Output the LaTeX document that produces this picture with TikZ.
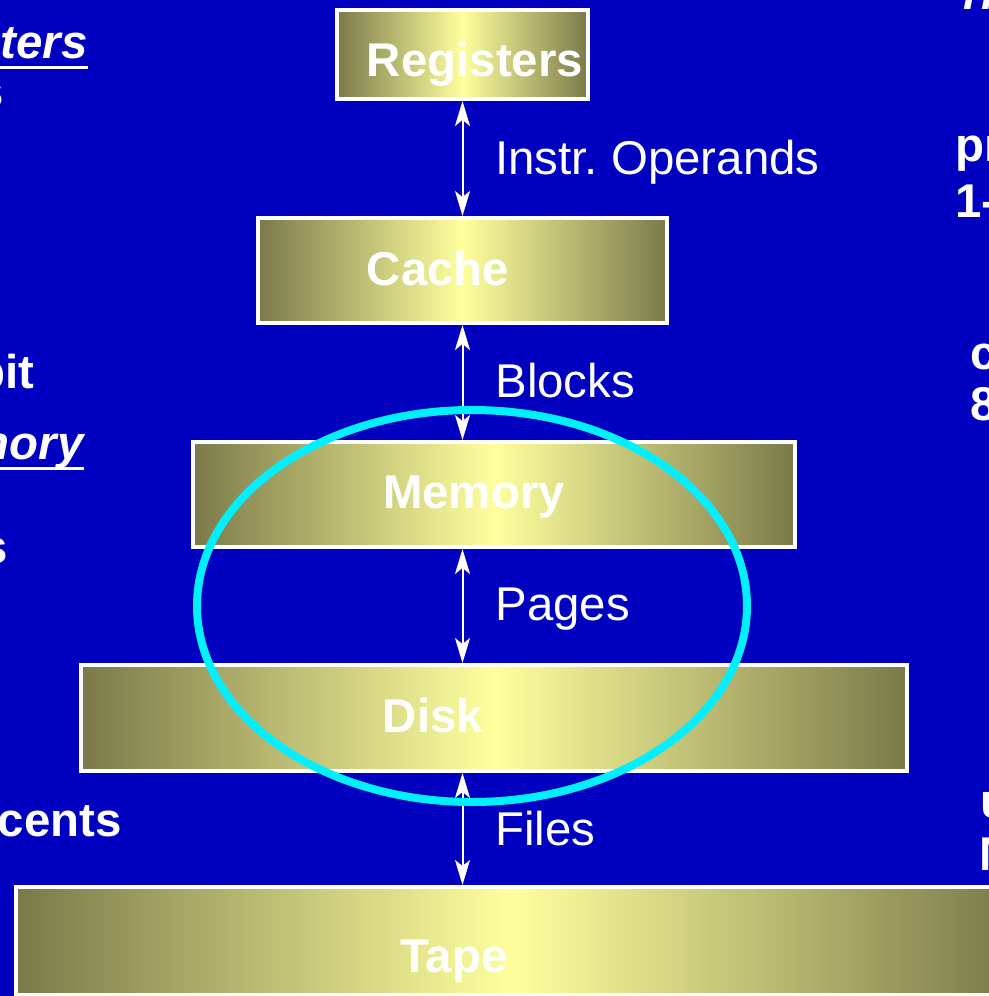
\documentclass[tikz,border=0pt]{standalone}
\usepackage{fontspec}
\setmainfont{Liberation Sans}
\setsansfont{Liberation Sans}
\usetikzlibrary{arrows.meta}

\definecolor{slide}{RGB}{0,0,192}
\definecolor{dimolive}{RGB}{122,122,74}
\definecolor{glow}{RGB}{255,255,158}
\definecolor{ringcyan}{RGB}{0,240,255}

\tikzset{
  level/.style={draw=white, line width=2pt, left color=dimolive, right color=dimolive, middle color=glow, inner sep=0pt},
  levelname/.style={text=white, font=\bfseries\fontsize{23.7pt}{28pt}\selectfont, anchor=base, inner sep=0pt},
  xfer/.style={text=white, font=\fontsize{23.7pt}{28pt}\selectfont, anchor=base west, inner sep=0pt},
  xferarrow/.style={white, line width=1pt, {Stealth[length=12.5pt,width=7.5pt,inset=3pt]}-{Stealth[length=12.5pt,width=7.5pt,inset=3pt]}},
  sideleft/.style={text=white, font=\bfseries\fontsize{23.7pt}{28pt}\selectfont, anchor=base east, inner sep=0pt},
  sideright/.style={text=white, font=\bfseries\fontsize{23.7pt}{28pt}\selectfont, anchor=base west, inner sep=0pt},
  uline/.style={white, line width=1.5pt}
}

\begin{document}
\begin{tikzpicture}[x=0.5pt, y=-0.5pt]

  \useasboundingbox (0,0) rectangle (989,996);
  \clip (0,0) rectangle (989,996);
  \fill[slide] (0,0) rectangle (989,996);

  % Levels
  \node[level, minimum width=125.5pt, minimum height=44.5pt] (reg) at (462.5,54.5) {};
  \node[level, minimum width=204.5pt, minimum height=52.5pt] (cache) at (462.5,270.5) {};
  \node[level, minimum width=301pt, minimum height=52.5pt] (mem) at (494,494.5) {};
  \node[level, minimum width=413pt, minimum height=53pt] (disk) at (494,718) {};
  \node[level, minimum width=497pt, minimum height=54pt] (tape) at (513,941) {};

  \node[levelname] (reg-t) at (475,76) {Registers};
  \node[levelname] (cache-t) at (438,285) {Cache};
  \node[levelname] (mem-t) at (474,508) {Memory};
  \node[levelname] (disk-t) at (433,732) {Disk};
  \node[levelname] (tape-t) at (454,972) {Tape};

  % Transfers
  \draw[xferarrow] (reg.south) -- (reg.south |- cache.north);
  \draw[xferarrow] (cache.south) -- (cache.south |- mem.north);
  \draw[xferarrow] (cache.south |- mem.south) -- (cache.south |- disk.north);
  \draw[xferarrow] (cache.south |- disk.south) -- (cache.south |- tape.north);

  \node[xfer] (ops) at (495,174) {Instr.\ Operands};
  \node[xfer] (blk) at (495,397) {Blocks};
  \node[xfer] (pg) at (495,620) {Pages};
  \node[xfer] (fl) at (495,845) {Files};

  % Side text (cut by the frame)
  \node[sideleft] (cpu) at (88,58) {\itshape ters};
  \draw[uline] ([yshift=-4.5pt]cpu.base west) -- ([yshift=-4.5pt]cpu.base east);
  \node[sideleft] (regsz) at (4,107) {s};
  \node[sideleft] (bit) at (35,388) {bit};
  \node[sideleft] (mm) at (84,459) {\itshape nory};
  \draw[uline] ([yshift=-4.5pt]mm.base west) -- ([yshift=-4.5pt]mm.base east);
  \node[sideleft] (memsz) at (8,563) {s};
  \node[sideleft] (cnt) at (122,836) {cents};

  \node[sideright] (tr1) at (963,9) {\itshape l};
  \node[sideright] (tr2) at (981,9) {\itshape l};
  \node[sideright] (prog) at (955,161) {pr};
  \node[sideright] (b1) at (955,217) {1-};
  \node[sideright] (cc) at (970,369) {c};
  \node[sideright] (b8) at (970,420) {8};
  \node[sideright] (usr) at (980,817) {u};
  \node[sideright] (mb) at (979,870) {M};

  % Staging ring
  \draw[ringcyan, line width=4pt] (472,606) ellipse [x radius=137.5pt, y radius=98pt];

\end{tikzpicture}
\end{document}
